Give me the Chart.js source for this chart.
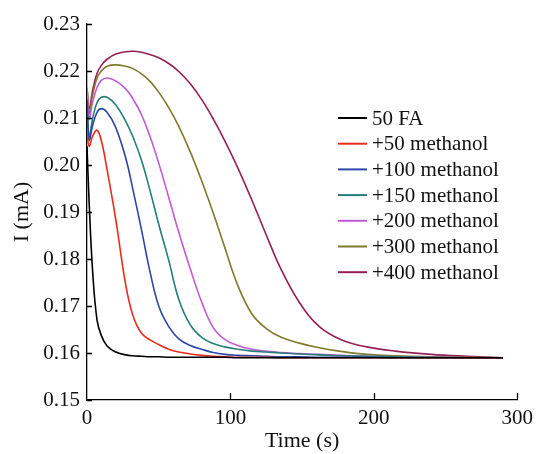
<!DOCTYPE html>
<html lang="en">
<head>
<meta charset="UTF-8">
<title>Current vs time</title>
<style>
  body { margin: 0; background: #ffffff; }
  .chart-box { width: 539px; height: 454px; }
</style>
<script src="https://cdn.jsdelivr.net/npm/chart.js"></script>
</head>
<body>

<div class="chart-box">
  <canvas id="currentChart"></canvas>
</div>

<script>
// sample times (s), shared by all curves
const timeSec = [0, 1.5, 4, 7, 10, 14, 20, 27, 32, 38, 44, 50, 57, 64, 72, 80, 88, 96, 105, 115, 125, 135, 148, 162, 178, 195, 215, 240, 265, 290];

// current (mA)
const fa50      = [0.2040, 0.1920, 0.1770, 0.1670, 0.1637, 0.1615, 0.1602, 0.1596, 0.1594, 0.1593, 0.1592, 0.1592, 0.1591, 0.1591, 0.1591, 0.1591, 0.1591, 0.1591, 0.1590, 0.1590, 0.1590, 0.1590, 0.1590, 0.1590, 0.1590, 0.1590, 0.1590, 0.1590, 0.1590, 0.1590];
const meoh50    = [0.2068, 0.2040, 0.2062, 0.2074, 0.2052, 0.1990, 0.1885, 0.1745, 0.1680, 0.1642, 0.1628, 0.1618, 0.1608, 0.1602, 0.1598, 0.1595, 0.1593, 0.1592, 0.1591, 0.1591, 0.1591, 0.1590, 0.1590, 0.1590, 0.1590, 0.1590, 0.1590, 0.1590, 0.1590, 0.1590];
const meoh100   = [0.2138, 0.2053, 0.2085, 0.2112, 0.2120, 0.2112, 0.2080, 0.2015, 0.1948, 0.1862, 0.1772, 0.1700, 0.1656, 0.1630, 0.1616, 0.1608, 0.1601, 0.1597, 0.1595, 0.1594, 0.1593, 0.1592, 0.1592, 0.1591, 0.1591, 0.1591, 0.1590, 0.1590, 0.1590, 0.1590];
const meoh150   = [0.2140, 0.2060, 0.2100, 0.2133, 0.2144, 0.2144, 0.2128, 0.2093, 0.2060, 0.2010, 0.1945, 0.1874, 0.1797, 0.1714, 0.1660, 0.1633, 0.1620, 0.1613, 0.1608, 0.1604, 0.1602, 0.1600, 0.1598, 0.1596, 0.1594, 0.1593, 0.1592, 0.1591, 0.1590, 0.1590];
const meoh200   = [0.2164, 0.2098, 0.2135, 0.2165, 0.2180, 0.2185, 0.2179, 0.2162, 0.2141, 0.2107, 0.2060, 0.2004, 0.1931, 0.1857, 0.1779, 0.1708, 0.1654, 0.1629, 0.1616, 0.1608, 0.1604, 0.1601, 0.1599, 0.1597, 0.1595, 0.1593, 0.1592, 0.1591, 0.1590, 0.1590];
const meoh300   = [0.2164, 0.2110, 0.2150, 0.2185, 0.2200, 0.2210, 0.2213, 0.2210, 0.2205, 0.2194, 0.2178, 0.2155, 0.2122, 0.2082, 0.2028, 0.1966, 0.1898, 0.1825, 0.1745, 0.1683, 0.1652, 0.1634, 0.1621, 0.1611, 0.1603, 0.1597, 0.1594, 0.1592, 0.1591, 0.1590];
const meoh400   = [0.2164, 0.2120, 0.2160, 0.2195, 0.2212, 0.2225, 0.2236, 0.2241, 0.2242, 0.2240, 0.2235, 0.2228, 0.2216, 0.2199, 0.2173, 0.2139, 0.2098, 0.2052, 0.1995, 0.1925, 0.1851, 0.1780, 0.1708, 0.1656, 0.1627, 0.1613, 0.1604, 0.1597, 0.1593, 0.1590];

const seriesNames  = ['50 FA', '+50 methanol', '+100 methanol', '+150 methanol', '+200 methanol', '+300 methanol', '+400 methanol'];
const seriesValues = [fa50, meoh50, meoh100, meoh150, meoh200, meoh300, meoh400];
const seriesColors = ['#000000', '#ec2b1e', '#2a46a8', '#267e7a', '#c15ad4', '#7f7a2c', '#981f55'];

const xTicks = [0, 100, 200, 300];
const yMin = 0.15, yMax = 0.23, yStep = 0.01;

const serif = 'Liberation Serif, Times New Roman, serif';
const textColor = '#111';

// ticks on the inner side of the axes
const innerTicks = {
  id: 'innerTicks',
  afterDatasetsDraw(chart) {
    const ctx = chart.ctx;
    const xs = chart.scales.x, ys = chart.scales.y;
    const area = chart.chartArea;
    ctx.save();
    ctx.strokeStyle = '#000';
    ctx.lineWidth = 1.3;
    ctx.beginPath();
    ys.ticks.forEach(t => {
      const py = Math.round(ys.getPixelForValue(t.value)) + 0.5;
      ctx.moveTo(area.left, py);
      ctx.lineTo(area.left + 5, py);
    });
    xs.ticks.forEach(t => {
      if (t.value === 0) return;
      const px = Math.round(xs.getPixelForValue(t.value)) + 0.5;
      ctx.moveTo(px, area.bottom);
      ctx.lineTo(px, area.bottom - 7);
    });
    ctx.stroke();
    ctx.restore();
  }
};

// legend drawn inside the plot
const sideLegend = {
  id: 'sideLegend',
  afterDatasetsDraw(chart) {
    const ctx = chart.ctx;
    ctx.save();
    ctx.font = '21px ' + serif;
    ctx.textBaseline = 'middle';
    ctx.textAlign = 'left';
    chart.data.datasets.forEach((ds, i) => {
      const y = 118 + i * 25.7;
      ctx.strokeStyle = ds.borderColor;
      ctx.lineWidth = 2;
      ctx.beginPath();
      ctx.moveTo(338, y);
      ctx.lineTo(367, y);
      ctx.stroke();
      ctx.fillStyle = textColor;
      ctx.fillText(ds.label, 372, y + 1);
    });
    ctx.restore();
  }
};

const datasets = seriesNames.map((name, i) => ({
  label: name,
  data: timeSec.map((t, k) => ({ x: t, y: seriesValues[i][k] })),
  borderColor: seriesColors[i],
  backgroundColor: seriesColors[i],
  borderWidth: 1.6,
  pointRadius: 0,
  tension: 0.4,
  fill: false
}));

new Chart(document.getElementById('currentChart'), {
  type: 'line',
  data: { datasets: datasets },
  options: {
    responsive: true,
    maintainAspectRatio: false,
    animation: false,
    layout: { padding: { top: 24, right: 19, left: 0, bottom: 0 } },
    plugins: {
      legend: { display: false },
      tooltip: { enabled: false }
    },
    scales: {
      x: {
        type: 'linear',
        min: 0,
        max: 300,
        afterBuildTicks: axis => { axis.ticks = xTicks.map(v => ({ value: v })); },
        ticks: { color: textColor, font: { family: serif, size: 21 }, padding: 6, maxRotation: 0 },
        grid: { drawOnChartArea: false, drawTicks: false },
        border: { color: '#000', width: 1.3 },
        title: { display: true, text: 'Time (s)', color: textColor, font: { family: serif, size: 22 }, padding: { top: 0, bottom: 0 } },
        afterFit: axis => { axis.height = 54; }
      },
      y: {
        min: yMin,
        max: yMax,
        ticks: {
          stepSize: yStep,
          color: textColor,
          font: { family: serif, size: 21 },
          padding: 7,
          callback: v => Number(v).toFixed(2)
        },
        grid: { drawOnChartArea: false, drawTicks: false },
        border: { color: '#000', width: 1.3 },
        title: { display: true, text: 'I (mA)', color: textColor, font: { family: serif, size: 22 }, padding: { top: 9, bottom: 0 } },
        afterFit: axis => { axis.width = 87; }
      }
    }
  },
  plugins: [innerTicks, sideLegend]
});
</script>

</body>
</html>
